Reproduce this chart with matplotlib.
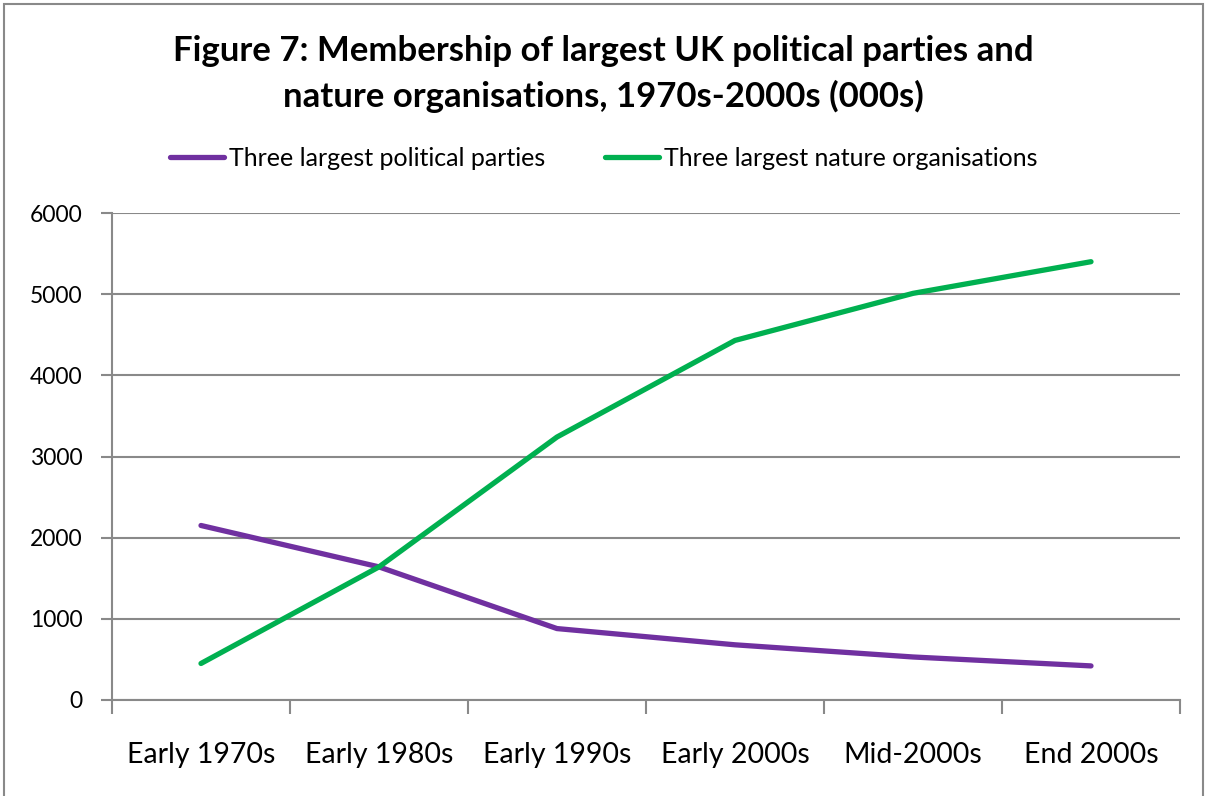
import numpy as np
import matplotlib.pyplot as plt
from matplotlib.patches import Rectangle

# Membership figures in thousands
periods = ['Early 1970s', 'Early 1980s', 'Early 1990s', 'Early 2000s', 'Mid-2000s', 'End 2000s']
parties = [2150, 1640, 880, 680, 530, 420]
nature = [450, 1640, 3240, 4430, 5010, 5400]

plt.rcParams['font.family'] = ['Lato', 'DejaVu Sans']
grey = '#898989'

fig = plt.figure(figsize=(12.07, 7.96), dpi=100)
ax = fig.add_axes([112 / 1207, 96 / 796, 1068 / 1207, 487 / 796])

x = np.arange(len(periods))
ax.plot(x, parties, color='#7030A0', lw=3.8, solid_capstyle='round',
        label='Three largest political parties')
ax.plot(x, nature, color='#00B050', lw=3.8, solid_capstyle='round',
        label='Three largest nature organisations')

ax.set_ylim(0, 6000)
ax.set_yticks(np.arange(0, 6001, 1000))
ax.set_xlim(-0.5, len(periods) - 0.5)
# tick marks on category boundaries, labels at category centres
ax.set_xticks(np.arange(-0.5, len(periods), 1.0))
ax.set_xticklabels([])
ax.set_xticks(x, minor=True)
ax.set_xticklabels(periods, minor=True)
ax.tick_params(axis='x', which='major', length=10, width=1.5, color=grey)
ax.tick_params(axis='x', which='minor', length=0, pad=30, labelsize=20.5)
ax.tick_params(axis='y', length=8, width=1.5, color=grey, pad=13, labelsize=16.5)

ax.grid(axis='y', color=grey, lw=1.5)
ax.set_axisbelow(True)
for side in ['top', 'right']:
    ax.spines[side].set_visible(False)
for side in ['left', 'bottom']:
    ax.spines[side].set_color(grey)
    ax.spines[side].set_linewidth(1.5)

fig.text(0.5, 1 - 74 / 796, 'Figure 7: Membership of largest UK political parties and\n'
         'nature organisations, 1970s-2000s (000s)',
         ha='center', va='center', fontsize=25, fontweight='bold', linespacing=1.45)

fig.legend(loc='center', bbox_to_anchor=(0.5, 1 - 158 / 796), ncol=2, frameon=False,
           fontsize=18, handlelength=2.15, handletextpad=0.2, columnspacing=2.4)

fig.patches.append(Rectangle((0.003, -0.01), 0.994, 1.005, transform=fig.transFigure,
                             fill=False, edgecolor=grey, lw=1.5))

fig.savefig('out.png', dpi=100)
